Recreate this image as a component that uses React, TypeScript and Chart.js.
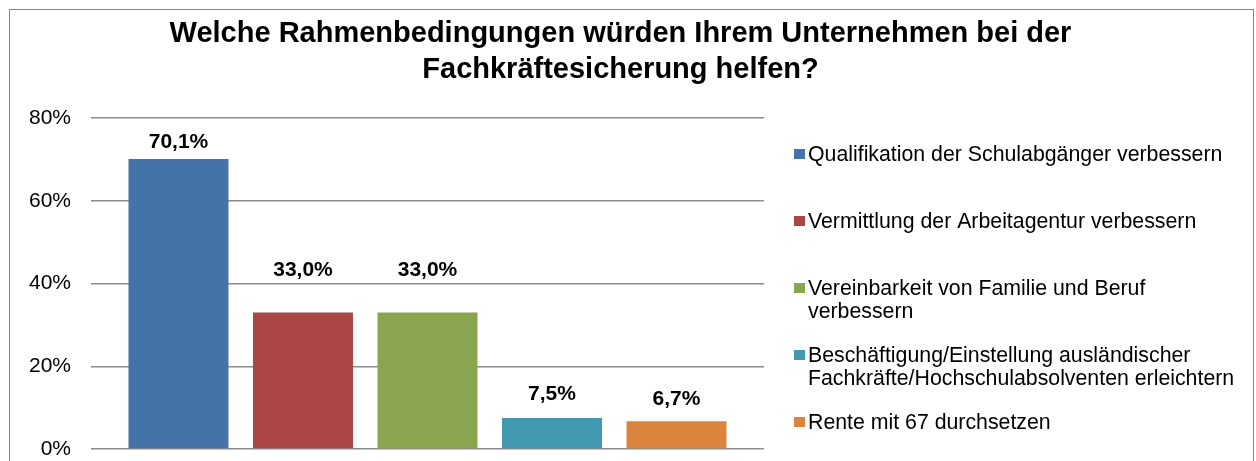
import React, { useEffect, useRef } from "react";
import { Chart, registerables } from "chart.js";

Chart.register(...registerables);

const FONT = '"Liberation Sans", Arial, Helvetica, sans-serif';

const categories = [""];
const seriesNames = [
  "Qualifikation der Schulabgänger verbessern",
  "Vermittlung der Arbeitagentur verbessern",
  "Vereinbarkeit von Familie und Beruf verbessern",
  "Beschäftigung/Einstellung ausländischer Fachkräfte/Hochschulabsolventen erleichtern",
  "Rente mit 67 durchsetzen",
];
const seriesValues = [70.1, 33.0, 33.0, 7.5, 6.7];
const seriesColors = ["#4572A7", "#AA4643", "#89A54E", "#4198AF", "#DB843D"];
const yTickValues = [0, 20, 40, 60, 80];
const titleLines = [
  "Welche Rahmenbedingungen würden Ihrem Unternehmen bei der",
  "Fachkräftesicherung helfen?",
];

const fmtPct = (v: number) => v.toFixed(1).replace(".", ",") + "%";

function wrapText(ctx: CanvasRenderingContext2D, text: string, maxW: number): string[] {
  const words = text.split(" ");
  const lines: string[] = [];
  let cur = "";
  for (const w of words) {
    const test = cur ? cur + " " + w : w;
    if (cur && ctx.measureText(test).width > maxW) {
      lines.push(cur);
      cur = w;
    } else {
      cur = test;
    }
  }
  if (cur) lines.push(cur);
  return lines;
}

const titlePlugin = {
  id: "customTitle",
  afterDraw(chart: any) {
    const ctx = chart.ctx as CanvasRenderingContext2D;
    ctx.save();
    ctx.font = `bold 29px ${FONT}`;
    ctx.fillStyle = "#000";
    ctx.textAlign = "center";
    ctx.textBaseline = "alphabetic";
    const baselines = [32, 68];
    titleLines.forEach((ln, i) => {
      ctx.fillText(ln, chart.width / 2 - 11, baselines[i]);
    });
    ctx.restore();
  },
};

const valueLabelPlugin = {
  id: "valueLabels",
  afterDatasetsDraw(chart: any) {
    const ctx = chart.ctx as CanvasRenderingContext2D;
    const lifts = [18, 43, 43, 25, 23];
    ctx.save();
    ctx.font = `bold 21px ${FONT}`;
    ctx.fillStyle = "#000";
    ctx.textAlign = "center";
    ctx.textBaseline = "alphabetic";
    chart.data.datasets.forEach((ds: any, i: number) => {
      const meta = chart.getDatasetMeta(i);
      meta.data.forEach((bar: any, j: number) => {
        const v = ds.data[j] as number;
        const cy = bar.y - lifts[i];
        ctx.fillText(fmtPct(v), bar.x, cy + 7);
      });
    });
    ctx.restore();
  },
};

const sideLegendPlugin = {
  id: "sideLegend",
  afterDraw(chart: any) {
    const ctx = chart.ctx as CanvasRenderingContext2D;
    const area = chart.chartArea;
    ctx.save();
    ctx.font = `21.3px ${FONT}`;
    ctx.textAlign = "left";
    ctx.textBaseline = "alphabetic";
    const markerX = area.right + 30;
    const textX = markerX + 14;
    const maxW = chart.width - textX - 4;
    chart.data.datasets.forEach((ds: any, i: number) => {
      const cy = area.top + 36 + i * 67;
      ctx.fillStyle = ds.backgroundColor;
      ctx.fillRect(markerX, cy - 5, 11, 10);
      ctx.fillStyle = "#000";
      const lines = wrapText(ctx, ds.label, maxW);
      lines.forEach((ln, k) => ctx.fillText(ln, textX, cy + 7 + k * 23));
    });
    ctx.restore();
  },
};

export default function App() {
  const ref = useRef<HTMLCanvasElement>(null);
  useEffect(() => {
    if (!ref.current) return;
    const chart = new Chart(ref.current, {
      type: "bar",
      data: {
        labels: categories,
        datasets: seriesNames.map((name, i) => ({
          label: name,
          data: [seriesValues[i]],
          backgroundColor: seriesColors[i],
          borderWidth: 0,
          categoryPercentage: 0.925,
          barPercentage: 0.803,
        })),
      },
      options: {
        animation: false,
        responsive: false,
        layout: { padding: { top: 108, right: 489, bottom: 12, left: 0 } },
        plugins: {
          legend: { display: false },
          title: { display: false },
          tooltip: { enabled: false },
        },
        scales: {
          x: { display: false },
          y: {
            min: 0,
            max: 80,
            afterBuildTicks: (scale: any) => {
              scale.ticks = yTickValues.map((v) => ({ value: v }));
            },
            afterFit: (scale: any) => {
              scale.width = 81;
              scale.paddingTop = 0;
              scale.paddingBottom = 0;
            },
            border: { display: false },
            grid: { color: "#8c8c8c", lineWidth: 1.5, drawTicks: false },
            ticks: {
              padding: 20,
              color: "#000",
              font: { size: 21, family: FONT },
              callback: (v: any) => `${v}%`,
            },
          },
        },
      },
      plugins: [titlePlugin, valueLabelPlugin, sideLegendPlugin],
    });
    return () => chart.destroy();
  }, []);

  return (
    <div
      style={{
        position: "absolute",
        left: 9,
        top: 9,
        width: 1243,
        height: 451,
        borderTop: "1px solid #868686",
        borderLeft: "1px solid #868686",
        borderRight: "1px solid #868686",
        background: "#fff",
      }}
    >
      <canvas ref={ref} width={1243} height={451} style={{ display: "block" }} />
    </div>
  );
}
